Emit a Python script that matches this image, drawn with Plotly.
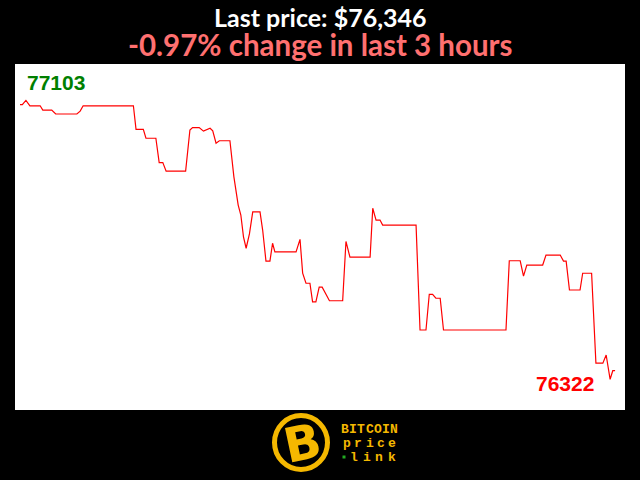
import plotly.graph_objects as go

# minutes since start of the 3-hour window
minutes = [0, 0.7, 1.8, 3.0, 6.1, 6.9, 9.6, 10.8, 17.2, 18.2, 19.1, 34.3, 35.1, 37.3, 38.1, 41.1,
           42.1, 43.2, 44.2, 50.1, 51.4, 52.2, 54.2, 55.5, 57.5, 58.3, 59.3, 60.3, 63.5, 64.7,
           66.0, 66.8, 67.6, 68.4, 69.4, 70.4, 72.6, 73.4, 74.4, 75.6, 76.4, 77.1, 83.5, 84.7,
           85.5, 86.5, 87.7, 88.5, 89.5, 90.5, 91.4, 93.6, 97.6, 98.6, 99.8, 105.9, 106.7, 107.7,
           108.9, 109.7, 119.8, 121.0, 122.8, 123.8, 124.8, 125.8, 127.1, 128.1, 147.0, 148.0,
           151.3, 152.3, 153.3, 158.1, 159.1, 163.4, 164.4, 165.2, 166.2, 169.4, 170.2, 172.9,
           174.2, 176.3, 177.3, 178.5, 179.3, 180.0]
prices = [77091, 77091, 77103, 77088, 77088, 77076, 77076, 77065, 77065, 77073, 77088, 77088,
          77022, 77022, 76997, 76997, 76929, 76929, 76905, 76905, 77020, 77027, 77027, 77017,
          77025, 77018, 76983, 76990, 76990, 76889, 76810, 76782, 76721, 76689, 76729, 76791,
          76791, 76740, 76653, 76653, 76703, 76679, 76679, 76714, 76619, 76591, 76591, 76539,
          76539, 76580, 76580, 76542, 76542, 76708, 76664, 76664, 76801, 76768, 76768, 76754,
          76754, 76460, 76460, 76560, 76560, 76549, 76549, 76460, 76460, 76654, 76654, 76611,
          76642, 76642, 76670, 76670, 76653, 76653, 76572, 76572, 76619, 76619, 76367, 76367,
          76390, 76322, 76346, 76346]

max_label = "77103"
min_label = "76322"
title_line1 = "Last price: $76,346"
title_line2 = "-0.97% change in last 3 hours"
logo_lines = ["BITCOIN", "price", "link"]

W, H = 640, 480
ML, MR, MT, MB = 15, 15, 64, 70
PW, PH = W - ML - MR, H - MT - MB


def px(x):
    return (x - ML) / PW


def py(y):
    return (H - MB - y) / PH


fig = go.Figure()
fig.add_trace(go.Scatter(x=minutes, y=prices, mode="lines",
                         line=dict(color="#ff0000", width=1.2), hoverinfo="skip"))

title_text = (f'<span style="font-size:25px;color:white">{title_line1}</span><br>'
              f'<span style="font-size:29.5px;color:#ff7070">{title_line2}</span>')

annotations = [
    dict(text=title_text, x=0.5, y=py(31.5),
         font=dict(family="Lato", size=22, color="white", weight="bold")),
    dict(text=max_label, x=px(25), y=py(83), xanchor="left",
         font=dict(family="Liberation Sans", size=21, color="#008000", weight="bold")),
    dict(text=min_label, x=px(596), y=py(383), xanchor="right",
         font=dict(family="Liberation Sans", size=21, color="#ff0000", weight="bold")),
    dict(text="B", x=px(302), y=py(443), textangle=-12,
         font=dict(family="DejaVu Sans", size=48, color="#f5b800", weight="bold")),
]

gold = "#f5b800"
letter_rows = [(logo_lines[0], 341, 398, 429), (logo_lines[1], 341, 398, 443), (logo_lines[2], 348, 398, 457)]
for word, x0, x1, yc in letter_rows:
    n = len(word)
    step = (x1 - x0) / n
    for i, ch in enumerate(word):
        annotations.append(dict(text=ch, x=px(x0 + step * (i + 0.5)), y=py(yc),
                                font=dict(family="Liberation Mono", size=13, color=gold, weight="bold")))

for a in annotations:
    a.setdefault("xref", "paper")
    a.setdefault("yref", "paper")
    a.setdefault("showarrow", False)
    a.setdefault("xanchor", "center")
    a.setdefault("yanchor", "middle")

shapes = [
    dict(type="circle", xref="paper", yref="paper", x0=px(274.5), x1=px(327.5), y0=py(469.5), y1=py(415.5),
         line=dict(color=gold, width=5), fillcolor="black", layer="above"),
    dict(type="rect", xref="paper", yref="paper", x0=px(342.5), x1=px(345.5), y0=py(458.5), y1=py(455.5),
         line=dict(width=0), fillcolor="#22aa22", layer="above"),
]

fig.update_layout(
    width=W, height=H,
    margin=dict(l=ML, r=MR, t=MT, b=MB),
    paper_bgcolor="black", plot_bgcolor="white",
    showlegend=False,
    xaxis=dict(visible=False, range=[-1.51, 183.0], fixedrange=True),
    yaxis=dict(visible=False, range=[76236, 77205], fixedrange=True),
    annotations=annotations,
    shapes=shapes,
)

fig.write_html("out.html", config={"displayModeBar": False},
               post_script="document.body.style.margin='0';document.body.style.background='black';")
